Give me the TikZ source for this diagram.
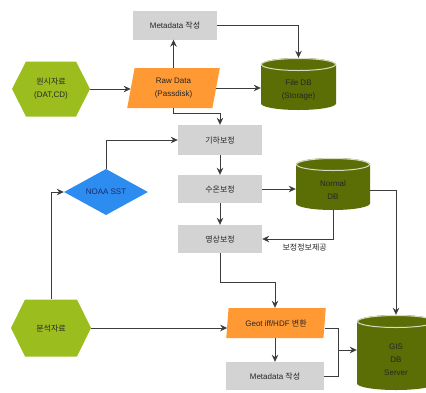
\documentclass[tikz,border=0pt]{standalone}
\usepackage{fontspec}
\setmainfont{Liberation Sans}
\newfontfamily\kr{Noto Sans CJK KR}
\usetikzlibrary{shapes.geometric,arrows.meta}
\definecolor{boxgray}{HTML}{D3D3D3}
\definecolor{orangef}{HTML}{FF9933}
\definecolor{hexgreen}{HTML}{9BBE1E}
\definecolor{olivef}{HTML}{5A6E05}
\definecolor{bluef}{HTML}{2D8CF0}
\definecolor{linec}{HTML}{3C3C3C}
\definecolor{navytext}{HTML}{1A2B6B}
\tikzset{
  base/.style={inner sep=0pt, align=center, font=\fontsize{8}{13}\selectfont, text=black!85},
  graybox/.style={base, rectangle, fill=boxgray, minimum width=#1, minimum height=29pt},
  para/.style n args={3}{base, trapezium, trapezium stretches=true, fill=orangef,
     trapezium left angle=#3, trapezium right angle={180-#3}, minimum width=#1, minimum height=#2},
  hexa/.style n args={2}{base, rectangle, minimum width=#1, minimum height=#2,
     path picture={\fill[hexgreen] (path picture bounding box.west)
       -- ([xshift=14pt]path picture bounding box.north west)
       -- ([xshift=-14pt]path picture bounding box.north east)
       -- (path picture bounding box.east)
       -- ([xshift=-14pt]path picture bounding box.south east)
       -- ([xshift=14pt]path picture bounding box.south west) -- cycle;}},
  cyl/.style n args={2}{base, rectangle, minimum width=#1, minimum height=#2,
     path picture={
       \fill[olivef] ([yshift=-6.5pt]path picture bounding box.north west)
         -- ([yshift=6.5pt]path picture bounding box.south west)
         arc[start angle=180, end angle=360, x radius=#1/2, y radius=6.5pt]
         -- ([yshift=-6.5pt]path picture bounding box.north east)
         arc[start angle=0, end angle=180, x radius=#1/2, y radius=6.5pt] -- cycle;
       \draw[white!75!olivef, line width=1pt] ([yshift=-6.5pt]path picture bounding box.north)
         ellipse[x radius=#1/2-0.5pt, y radius=6pt];}},
  dia/.style={base, diamond, fill=bluef, minimum width=84pt, minimum height=46pt, text=navytext},
  arr/.style={draw=linec, line width=0.8pt, -{Stealth[length=7pt,width=6.5pt]}},
  ln/.style={draw=linec, line width=0.8pt}
}
\begin{document}
\begin{tikzpicture}[x=1pt, y=-1pt]
\clip (0,0) rectangle (426,392);
% nodes
\node[graybox=84pt] (meta1) at (175,25) {Metadata {\kr 작성}};
\node[para={93pt}{40pt}{80}] (raw) at (173.5,88) {Raw Data\\(Passdisk)};
\node[hexa={78pt}{55pt}] (src) at (51,89) {{\kr 원시자료}\\(DAT,CD)};
\node[cyl={75pt}{52pt}, label={[base, yshift=-6pt]center:File DB\\(Storage)}] (filedb) at (298.5,84) {};
\node[graybox=84pt, minimum height=30pt] (geo) at (220,140) {\kr 기하보정};
\node[graybox=84pt, minimum height=28pt] (sst) at (220,189) {\kr 수온보정};
\node[graybox=84pt, minimum height=28pt] (img) at (220,239) {\kr 영상보정};
\node[cyl={74pt}{52pt}, label={[base, yshift=-6pt]center:Normal\\DB}] (normal) at (333,184) {};
\node[dia] (noaa) at (106,192) {NOAA SST};
\node[hexa={80pt}{57pt}] (ana) at (51,328) {\kr 분석자료};
\node[para={100pt}{30pt}{78}] (geot) at (276,323) {Geot iff/HDF {\kr 변환}};
\node[graybox=98pt, minimum height=28pt] (meta2) at (275,376) {Metadata {\kr 작성}};
\node[cyl={78pt}{75pt}, label={[base, yshift=-7pt]center:GIS\\DB\\Server}] (gis) at (396,352.5) {};
% connectors
\draw[arr] (src.east) -- (src.east -| raw.west);
\draw[arr] (raw.north) -- (raw.north |- meta1.south);
\draw[arr] (meta1.east) -| (filedb.north);
\draw[arr] (raw.east) -- (raw.east -| filedb.west);
\draw[arr] (raw.north |- raw.south) -- ++(0,5) -| (geo.north);
\draw[arr] (geo.south) -- (sst.north);
\draw[arr] (sst.south) -- (img.north);
\draw[arr] (sst.east) -- (sst.east -| normal.west);
\draw[arr] (normal.south) |- node[base, pos=0.7, below=4pt] {\kr 보정정보제공} (img.east);
\draw[arr] ([yshift=-6pt]normal.east) -| (gis.north);
\draw[arr] (ana.north) |- (noaa.west);
\draw[arr] (noaa.north) |- (geo.west);
\draw[arr] (ana.east) -- (ana.east -| geot.west);
\draw[arr] (img.south) -- ++(0,29) -| (geot.north -| meta2.north);
\draw[arr] (geot.south -| meta2.north) -- (meta2.north);
\coordinate (j) at (338,350);
\draw[ln] ([yshift=-5pt]geot.east) -| (j);
\draw[ln] (meta2.east) -| (j);
\draw[arr] (j) -- (j -| gis.west);
\end{tikzpicture}
\end{document}
